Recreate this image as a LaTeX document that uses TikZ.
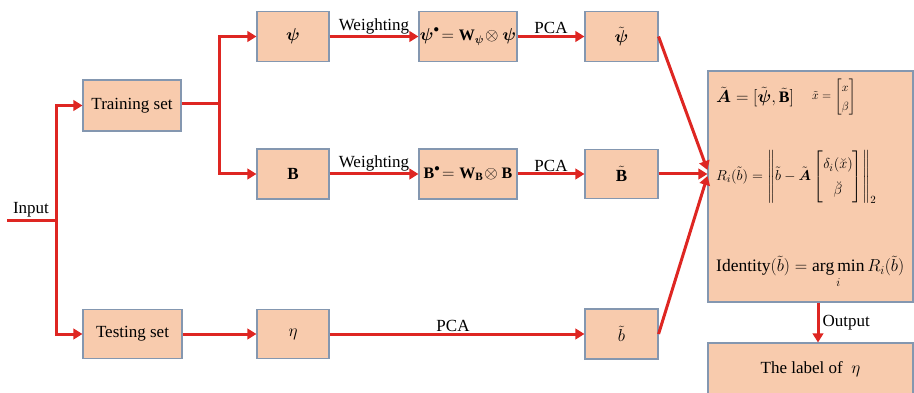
\documentclass[tikz,border=0pt]{standalone}
\usepackage{amsmath}
\usepackage{fontspec}
\setmainfont{Liberation Serif}
\usetikzlibrary{arrows.meta,calc}

\definecolor{boxfill}{RGB}{248,203,173}
\definecolor{boxedge}{RGB}{132,151,176}
\definecolor{flowred}{RGB}{222,38,34}

\tikzset{
  box/.style={draw=boxedge, fill=boxfill, line width=1.1pt, inner sep=0pt,
    font=\fontsize{17}{20}\selectfont},
  wire/.style={draw=flowred, line width=3pt},
  flow/.style={wire, -{Triangle[length=9pt,width=10.5pt]}},
  lbl/.style={font=\fontsize{17}{20}\selectfont, inner sep=1pt},
  eq/.style={anchor=west, inner sep=0pt, font=\fontsize{16}{19}\selectfont}
}

\begin{document}
\begin{tikzpicture}[x=1pt, y=-1pt]
\useasboundingbox (0,0) rectangle (914,393);

% first column: data sets
\node[box, minimum width=98pt, minimum height=51pt] (train) at (132,105.5) {Training set};
\node[box, minimum width=99pt, minimum height=49pt] (test) at (132.5,334) {Testing set};

% second column: raw features
\node[box, minimum width=72pt, minimum height=50pt, font=\fontsize{19}{22}\selectfont] (psi) at (293,36.5) {$\boldsymbol{\psi}$};
\node[box, minimum width=72pt, minimum height=50pt] (B) at (293,174) {$\mathbf{B}$};
\node[box, minimum width=72pt, minimum height=49pt, font=\fontsize{19}{22}\selectfont] (eta) at (293,334) {$\eta$};

% third column: weighted features
\node[box, minimum width=98pt, minimum height=50pt, font=\fontsize{16}{19}\selectfont] (psiw) at (468,36.5)
  {$\boldsymbol{\psi}^{\bullet}\!=\mathbf{W}_{\boldsymbol{\psi}}\!\otimes\boldsymbol{\psi}$};
\node[box, minimum width=98pt, minimum height=50pt, font=\fontsize{16}{19}\selectfont] (Bw) at (468,174)
  {$\mathbf{B}^{\bullet}\!=\mathbf{W}_{\mathbf{B}}\!\otimes\mathbf{B}$};

% fourth column: reduced features
\node[box, minimum width=73pt, minimum height=50pt, font=\fontsize{19}{22}\selectfont] (psit) at (621.5,36.5) {$\tilde{\boldsymbol{\psi}}$};
\node[box, minimum width=73pt, minimum height=49pt] (Bt) at (621.5,174) {$\tilde{\mathbf{B}}$};
\node[box, minimum width=73pt, minimum height=50pt, font=\fontsize{19}{22}\selectfont] (bt) at (621.5,334) {$\tilde{b}$};

% classifier and result
\node[box, minimum width=205pt, minimum height=231pt] (big) at (810.5,186.5) {};
\node[box, minimum width=205pt, minimum height=52pt] (res) at (810.5,369)
  {The label of \ {\fontsize{19}{22}\selectfont$\eta$}};

% classifier formulas
\node[eq] (eqA) at (716,97)
  {$\tilde{\boldsymbol{A}}=[\tilde{\boldsymbol{\psi}},\tilde{\mathbf{B}}]$};
\node[eq, font=\fontsize{13}{16}\selectfont] (eqx) at (812,97)
  {$\tilde{x}=\renewcommand{\arraystretch}{1.2}\begin{bmatrix} x\\ \beta\end{bmatrix}$};
\node[eq, font=\fontsize{15}{18}\selectfont] (eqR) at (716,177)
  {$R_i(\tilde{b})=\left\|\tilde{b}-\tilde{\boldsymbol{A}}\renewcommand{\arraystretch}{1.45}\begin{bmatrix}\delta_i(\breve{x})\\ \breve{\beta}\end{bmatrix}\right\|_2$};
\node[eq, font=\fontsize{17.5}{21}\selectfont, anchor=base west] (eqI) at (716,272)
  {Identity$(\tilde{b})=\operatorname*{arg\,min}\limits_i R_i(\tilde{b})$};

% input split
\coordinate (in) at (7,221);
\coordinate (split) at (56,221);
\draw[wire] (in) -- (split);
\node[lbl, anchor=south] (inlbl) at (31,218) {Input};
\draw[flow] (split) |- (train.west);
\draw[flow] (split) |- (test.west);

% training set branches
\coordinate (tsplit) at (219,104);
\draw[wire] (train.east |- tsplit) -- (tsplit);
\draw[flow] (tsplit) |- (psi.west);
\draw[flow] (tsplit) |- (B.west);

% weighting and PCA
\draw[flow] (psi) -- node[lbl, above] {Weighting} (psiw);
\draw[flow] (psiw) -- node[lbl, above] {PCA} (psit);
\draw[flow] (B) -- node[lbl, above] {Weighting} (Bw);
\draw[flow] (Bw) -- node[lbl, above] {PCA} (Bt);
\draw[flow] (test) -- (eta);
\draw[flow] (eta) -- node[lbl, above, xshift=-4pt] {PCA} (bt);

% into the classifier
\draw[flow] (psit.east) -- ($(big.west |- Bt.east)+(0,-4)$);
\draw[flow] (Bt.east) -- (big.west |- Bt.east);
\draw[flow] (bt.east) -- ($(big.west |- Bt.east)+(0,2)$);

% output
\draw[flow] (big.south -| 818,0) -- node[lbl, right, xshift=2pt] {Output} (res.north -| 818,0);
\end{tikzpicture}
\end{document}
